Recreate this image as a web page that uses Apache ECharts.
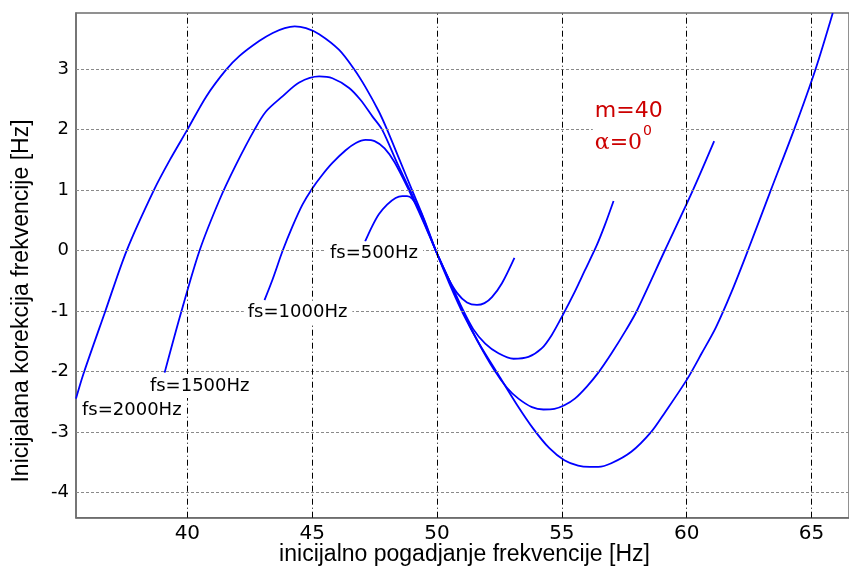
<!DOCTYPE html>
<html>
<head>
<meta charset="utf-8">
<script src="https://cdn.jsdelivr.net/npm/echarts@6/dist/echarts.min.js"></script>
<style>
  html, body { margin: 0; padding: 0; background: #ffffff; }
  #chart { width: 849px; height: 567px; }
</style>
</head>
<body>
<div id="chart"></div>
<script>
// Initial frequency correction vs. initial frequency guess, m = 40, alpha = 0 deg
const xTicks = [40, 45, 50, 55, 60, 65];
const yTicks = [-4, -3, -2, -1, 0, 1, 2, 3];

const fs500X = [47.12, 47.4, 47.67, 48.0, 48.34, 48.61, 48.8, 49.0, 49.3, 49.5, 49.95, 50.4, 50.8, 51.2, 51.6, 51.9, 52.2, 52.6, 53.1];
const fs500Y = [0.15, 0.40, 0.60, 0.76, 0.87, 0.9, 0.9, 0.86, 0.68, 0.48, 0.0, -0.42, -0.7, -0.86, -0.9, -0.87, -0.77, -0.54, -0.12];

const fs1000X = [43.09, 43.42, 43.82, 44.21, 44.61, 44.99, 45.4, 45.81, 46.34, 46.75, 47.14, 47.5, 47.9, 48.3, 48.87, 49.45, 49.95, 50.5, 51.0, 51.45, 51.93, 52.46, 53.06, 53.66, 54.19, 54.59, 55.02, 55.52, 55.92, 56.39, 56.72, 57.07];
const fs1000Y = [-0.82, -0.47, 0.0, 0.4, 0.76, 1.02, 1.25, 1.45, 1.66, 1.78, 1.83, 1.81, 1.69, 1.46, 1.0, 0.48, 0.0, -0.5, -0.95, -1.3, -1.54, -1.7, -1.79, -1.76, -1.62, -1.4, -1.08, -0.68, -0.33, 0.08, 0.42, 0.82];

const fs1500X = [39.09, 39.76, 40.49, 41.29, 41.95, 42.69, 43.15, 43.81, 44.48, 45.28, 45.81, 46.48, 46.94, 47.41, 47.8, 48.4, 48.95, 49.45, 49.95, 50.55, 51.02, 51.6, 52.28, 52.8, 53.26, 53.8, 54.26, 54.7, 55.1, 55.52, 56.0, 56.46, 56.99, 57.59, 58.0, 59.1, 60.25, 61.1];
const fs1500Y = [-2.02, -1.01, 0.0, 0.84, 1.42, 2.0, 2.3, 2.55, 2.78, 2.88, 2.85, 2.69, 2.49, 2.22, 2.0, 1.45, 0.97, 0.5, 0.0, -0.55, -1.0, -1.48, -1.97, -2.27, -2.45, -2.59, -2.63, -2.62, -2.56, -2.45, -2.25, -2.02, -1.7, -1.3, -1.0, -0.02, 1.0, 1.81];

const fs2000X = [35.54, 35.83, 36.7, 37.57, 38.66, 39.3, 40.0, 40.76, 41.53, 42.09, 42.89, 43.42, 43.9, 44.3, 44.75, 45.28, 46.08, 46.68, 47.14, 47.67, 48.0, 48.5, 49.0, 49.5, 49.95, 50.5, 51.05, 51.7, 52.45, 53.2, 53.86, 54.5, 55.1, 55.65, 56.12, 56.46, 56.98, 57.78, 58.58, 59.11, 60.0, 60.6, 61.17, 61.8, 62.45, 63.37, 64.3, 65.16, 65.85];
const fs2000Y = [-2.45, -2.05, -1.02, 0.0, 1.0, 1.5, 2.0, 2.55, 2.98, 3.22, 3.47, 3.6, 3.68, 3.71, 3.68, 3.58, 3.32, 3.0, 2.7, 2.3, 2.0, 1.5, 1.0, 0.5, 0.0, -0.55, -1.05, -1.55, -2.05, -2.55, -2.95, -3.27, -3.47, -3.56, -3.58, -3.58, -3.52, -3.33, -3.0, -2.69, -2.14, -1.7, -1.27, -0.68, 0.0, 1.0, 2.0, 3.0, 3.93];

const curveNames = ['fs=500Hz', 'fs=1000Hz', 'fs=1500Hz', 'fs=2000Hz'];
const curveX = [fs500X, fs1000X, fs1500X, fs2000X];
const curveY = [fs500Y, fs1000Y, fs1500Y, fs2000Y];

// Where each annotation sits, in data units (left edge, vertical middle)
const curveLabelAt = [[45.71, -0.05], [42.42, -1.03], [38.5, -2.24], [35.78, -2.645]];
const paramText = ['m=40', '\u03b1=0', '0'];
const paramAt = [[56.32, 2.30], [56.32, 1.78], [58.25, 1.97]];

const xTitle = 'inicijalno pogadjanje frekvencije [Hz]';
const yTitle = 'Inicijalana korekcija frekvencije [Hz]';

const zip = (xs, ys) => xs.map((x, i) => [x, ys[i]]);

const chart = echarts.init(document.getElementById('chart'), null, { renderer: 'canvas' });

const curveSeries = curveNames.map((name, i) => ({
  name: name,
  type: 'line',
  data: zip(curveX[i], curveY[i]),
  showSymbol: false,
  smooth: 0.3,
  z: 4,
  lineStyle: { color: '#0000ff', width: 1.8 },
  animation: false,
  silent: true
}));

const gridSeries = {
  type: 'line',
  data: [],
  z: 2,
  silent: true,
  animation: false,
  markLine: {
    silent: true,
    symbol: ['none', 'none'],
    label: { show: false },
    animation: false,
    data: yTicks.map(v => ({ yAxis: v, lineStyle: { color: '#8a8a8a', width: 1, type: [3, 2] } }))
      .concat(xTicks.map(v => ({ xAxis: v, lineStyle: { color: '#000000', width: 1, type: [6, 3, 1, 3] } })))
  }
};

chart.setOption({
  backgroundColor: '#ffffff',
  animation: false,
  grid: {
    left: 76, top: 13, width: 776, height: 504.7,
    show: true, borderColor: '#6e6e6e', borderWidth: 1.5, backgroundColor: 'transparent'
  },
  xAxis: {
    type: 'value', min: 35.54, max: 66.5,
    axisLine: { show: true, onZero: false, lineStyle: { color: '#6e6e6e', width: 1.5 } },
    axisTick: { show: false, customValues: xTicks },
    splitLine: { show: false },
    axisLabel: {
      customValues: xTicks, color: '#000', fontFamily: 'DejaVu Sans', fontSize: 20, margin: 6
    }
  },
  yAxis: {
    type: 'value', min: -4.42, max: 3.93,
    axisLine: { show: true, onZero: false, lineStyle: { color: '#6e6e6e', width: 1.5 } },
    axisTick: { show: false, customValues: yTicks },
    splitLine: { show: false },
    axisLabel: {
      customValues: yTicks, color: '#000', fontFamily: 'DejaVu Sans', fontSize: 18, margin: 7
    }
  },
  series: [gridSeries].concat(curveSeries)
});

const px = p => chart.convertToPixel({ gridIndex: 0 }, p);

const graphics = [];
curveNames.forEach((name, i) => {
  const p = px(curveLabelAt[i]);
  graphics.push({
    type: 'text', z: 10, silent: true,
    x: p[0] - 4, y: p[1],
    style: {
      text: name, fill: '#000', font: '18px "DejaVu Sans"',
      align: 'left', verticalAlign: 'middle',
      backgroundColor: '#ffffff', padding: [3, 5, 3, 4]
    }
  });
});

const m = px(paramAt[0]);
graphics.push({
  type: 'text', z: 10, silent: true, x: m[0] - 2, y: m[1],
  style: { text: paramText[0], fill: '#cc0000', font: '22px "DejaVu Sans"', align: 'left', verticalAlign: 'middle',
    backgroundColor: '#ffffff', padding: [3, 14, 3, 2] }
});
const a = px(paramAt[1]);
graphics.push({
  type: 'text', z: 10, silent: true, x: a[0] - 2, y: a[1],
  style: { text: paramText[1], fill: '#cc0000', font: '22px "DejaVu Serif"', align: 'left', verticalAlign: 'middle',
    backgroundColor: '#ffffff', padding: [3, 38, 3, 2] }
});
const s = px(paramAt[2]);
graphics.push({
  type: 'text', z: 11, silent: true, x: s[0], y: s[1],
  style: { text: paramText[2], fill: '#cc0000', font: '14px "DejaVu Sans"', align: 'left', verticalAlign: 'middle' }
});

graphics.push({
  type: 'text', z: 10, silent: true, x: 464.5, y: 554.5,
  style: { text: xTitle, fill: '#000', font: '23px "Liberation Sans"', align: 'center', verticalAlign: 'middle' }
});
graphics.push({
  type: 'text', z: 10, silent: true, x: 22, y: 301, rotation: Math.PI / 2,
  style: { text: yTitle, fill: '#000', font: '23px "Liberation Sans"', align: 'center', verticalAlign: 'middle' }
});

chart.setOption({ graphic: { elements: graphics } });
</script>
</body>
</html>
